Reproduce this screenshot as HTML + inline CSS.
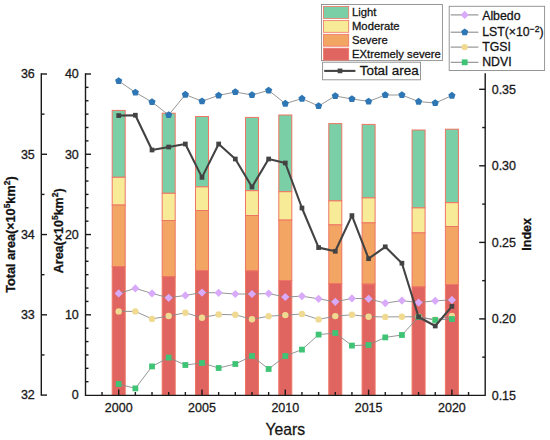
<!DOCTYPE html>
<html><head><meta charset="utf-8"><style>
html,body{margin:0;padding:0;background:#fff;}
svg{display:block;}
text{font-family:"Liberation Sans", sans-serif;stroke:#1a1a1a;stroke-width:0.3px;}
</style></head><body>
<svg width="550" height="440" viewBox="0 0 550 440">
<rect width="550" height="440" fill="#fff"/>
<rect x="112.2" y="110.4" width="13" height="66.9" fill="#7acfa6" stroke="#ee7664" stroke-width="1"/>
<rect x="112.2" y="177.3" width="13" height="27.8" fill="#f7eb98" stroke="#ee7664" stroke-width="1"/>
<rect x="112.2" y="205.1" width="13" height="61.4" fill="#f3a664" stroke="#ee7664" stroke-width="1"/>
<rect x="112.2" y="266.5" width="13" height="128.5" fill="#e06460" stroke="#ee7664" stroke-width="1"/>
<rect x="162.18" y="113.2" width="13" height="80.1" fill="#7acfa6" stroke="#ee7664" stroke-width="1"/>
<rect x="162.18" y="193.3" width="13" height="27.2" fill="#f7eb98" stroke="#ee7664" stroke-width="1"/>
<rect x="162.18" y="220.5" width="13" height="56" fill="#f3a664" stroke="#ee7664" stroke-width="1"/>
<rect x="162.18" y="276.5" width="13" height="118.5" fill="#e06460" stroke="#ee7664" stroke-width="1"/>
<rect x="195.5" y="116.5" width="13" height="70.4" fill="#7acfa6" stroke="#ee7664" stroke-width="1"/>
<rect x="195.5" y="186.9" width="13" height="23.6" fill="#f7eb98" stroke="#ee7664" stroke-width="1"/>
<rect x="195.5" y="210.5" width="13" height="60" fill="#f3a664" stroke="#ee7664" stroke-width="1"/>
<rect x="195.5" y="270.5" width="13" height="124.5" fill="#e06460" stroke="#ee7664" stroke-width="1"/>
<rect x="245.48" y="117.4" width="13" height="73.3" fill="#7acfa6" stroke="#ee7664" stroke-width="1"/>
<rect x="245.48" y="190.7" width="13" height="24.8" fill="#f7eb98" stroke="#ee7664" stroke-width="1"/>
<rect x="245.48" y="215.5" width="13" height="55.4" fill="#f3a664" stroke="#ee7664" stroke-width="1"/>
<rect x="245.48" y="270.9" width="13" height="124.1" fill="#e06460" stroke="#ee7664" stroke-width="1"/>
<rect x="278.8" y="115" width="13" height="76.7" fill="#7acfa6" stroke="#ee7664" stroke-width="1"/>
<rect x="278.8" y="191.7" width="13" height="28.4" fill="#f7eb98" stroke="#ee7664" stroke-width="1"/>
<rect x="278.8" y="220.1" width="13" height="60.4" fill="#f3a664" stroke="#ee7664" stroke-width="1"/>
<rect x="278.8" y="280.5" width="13" height="114.5" fill="#e06460" stroke="#ee7664" stroke-width="1"/>
<rect x="328.78" y="123.6" width="13" height="77.3" fill="#7acfa6" stroke="#ee7664" stroke-width="1"/>
<rect x="328.78" y="200.9" width="13" height="24" fill="#f7eb98" stroke="#ee7664" stroke-width="1"/>
<rect x="328.78" y="224.9" width="13" height="58.6" fill="#f3a664" stroke="#ee7664" stroke-width="1"/>
<rect x="328.78" y="283.5" width="13" height="111.5" fill="#e06460" stroke="#ee7664" stroke-width="1"/>
<rect x="362.1" y="124.4" width="13" height="73.5" fill="#7acfa6" stroke="#ee7664" stroke-width="1"/>
<rect x="362.1" y="197.9" width="13" height="25" fill="#f7eb98" stroke="#ee7664" stroke-width="1"/>
<rect x="362.1" y="222.9" width="13" height="61.2" fill="#f3a664" stroke="#ee7664" stroke-width="1"/>
<rect x="362.1" y="284.1" width="13" height="110.9" fill="#e06460" stroke="#ee7664" stroke-width="1"/>
<rect x="412.08" y="130" width="13" height="77.9" fill="#7acfa6" stroke="#ee7664" stroke-width="1"/>
<rect x="412.08" y="207.9" width="13" height="25" fill="#f7eb98" stroke="#ee7664" stroke-width="1"/>
<rect x="412.08" y="232.9" width="13" height="54" fill="#f3a664" stroke="#ee7664" stroke-width="1"/>
<rect x="412.08" y="286.9" width="13" height="108.1" fill="#e06460" stroke="#ee7664" stroke-width="1"/>
<rect x="445.4" y="129.2" width="13" height="73.5" fill="#7acfa6" stroke="#ee7664" stroke-width="1"/>
<rect x="445.4" y="202.7" width="13" height="23.8" fill="#f7eb98" stroke="#ee7664" stroke-width="1"/>
<rect x="445.4" y="226.5" width="13" height="58" fill="#f3a664" stroke="#ee7664" stroke-width="1"/>
<rect x="445.4" y="284.5" width="13" height="110.5" fill="#e06460" stroke="#ee7664" stroke-width="1"/>
<polyline points="118.7,293.4 135.36,288.4 152.02,293.4 168.68,297.8 185.34,295.4 202,292.6 218.66,292.8 235.32,294 251.98,294 268.64,293.6 285.3,297 301.96,296.2 318.62,298.8 335.28,301.8 351.94,298.4 368.6,298.8 385.26,303.1 401.92,300.6 418.58,302.6 435.24,300.8 451.9,299.9" fill="none" stroke="#8a8a8a" stroke-width="0.9" stroke-linejoin="round"/>
<polyline points="118.7,311.4 135.36,311.4 152.02,318.9 168.68,316 185.34,312.8 202,317.7 218.66,314.4 235.32,314.8 251.98,319.3 268.64,316.2 285.3,315.1 301.96,314 318.62,319.4 335.28,316.1 351.94,314.8 368.6,316.7 385.26,316.9 401.92,316.8 418.58,316.8 435.24,319.8 451.9,316" fill="none" stroke="#8a8a8a" stroke-width="0.9" stroke-linejoin="round"/>
<polyline points="118.7,384 135.36,388.4 152.02,366.4 168.68,357.6 185.34,365 202,363 218.66,368 235.32,364 251.98,356 268.64,369 285.3,356 301.96,349.6 318.62,334.6 335.28,333 351.94,345.6 368.6,345 385.26,337.4 401.92,335 418.58,317 435.24,320 451.9,319" fill="none" stroke="#8a8a8a" stroke-width="0.9" stroke-linejoin="round"/>
<polyline points="118.7,81 135.36,92.4 152.02,102 168.68,115 185.34,94.6 202,101.2 218.66,95.4 235.32,92 251.98,95 268.64,90.4 285.3,103.6 301.96,98.6 318.62,106 335.28,96 351.94,99 368.6,101.4 385.26,95 401.92,95 418.58,101.6 435.24,103 451.9,95.6" fill="none" stroke="#8a8a8a" stroke-width="0.9" stroke-linejoin="round"/>
<polygon points="118.7,289.3 122.8,293.4 118.7,297.5 114.6,293.4" fill="#d9aaf9"/>
<polygon points="135.36,284.3 139.46,288.4 135.36,292.5 131.26,288.4" fill="#d9aaf9"/>
<polygon points="152.02,289.3 156.12,293.4 152.02,297.5 147.92,293.4" fill="#d9aaf9"/>
<polygon points="168.68,293.7 172.78,297.8 168.68,301.9 164.58,297.8" fill="#d9aaf9"/>
<polygon points="185.34,291.3 189.44,295.4 185.34,299.5 181.24,295.4" fill="#d9aaf9"/>
<polygon points="202,288.5 206.1,292.6 202,296.7 197.9,292.6" fill="#d9aaf9"/>
<polygon points="218.66,288.7 222.76,292.8 218.66,296.9 214.56,292.8" fill="#d9aaf9"/>
<polygon points="235.32,289.9 239.42,294 235.32,298.1 231.22,294" fill="#d9aaf9"/>
<polygon points="251.98,289.9 256.08,294 251.98,298.1 247.88,294" fill="#d9aaf9"/>
<polygon points="268.64,289.5 272.74,293.6 268.64,297.7 264.54,293.6" fill="#d9aaf9"/>
<polygon points="285.3,292.9 289.4,297 285.3,301.1 281.2,297" fill="#d9aaf9"/>
<polygon points="301.96,292.1 306.06,296.2 301.96,300.3 297.86,296.2" fill="#d9aaf9"/>
<polygon points="318.62,294.7 322.72,298.8 318.62,302.9 314.52,298.8" fill="#d9aaf9"/>
<polygon points="335.28,297.7 339.38,301.8 335.28,305.9 331.18,301.8" fill="#d9aaf9"/>
<polygon points="351.94,294.3 356.04,298.4 351.94,302.5 347.84,298.4" fill="#d9aaf9"/>
<polygon points="368.6,294.7 372.7,298.8 368.6,302.9 364.5,298.8" fill="#d9aaf9"/>
<polygon points="385.26,299 389.36,303.1 385.26,307.2 381.16,303.1" fill="#d9aaf9"/>
<polygon points="401.92,296.5 406.02,300.6 401.92,304.7 397.82,300.6" fill="#d9aaf9"/>
<polygon points="418.58,298.5 422.68,302.6 418.58,306.7 414.48,302.6" fill="#d9aaf9"/>
<polygon points="435.24,296.7 439.34,300.8 435.24,304.9 431.14,300.8" fill="#d9aaf9"/>
<polygon points="451.9,295.8 456,299.9 451.9,304 447.8,299.9" fill="#d9aaf9"/>
<circle cx="118.7" cy="311.4" r="3.2" fill="#f0da92"/>
<circle cx="135.36" cy="311.4" r="3.2" fill="#f0da92"/>
<circle cx="152.02" cy="318.9" r="3.2" fill="#f0da92"/>
<circle cx="168.68" cy="316" r="3.2" fill="#f0da92"/>
<circle cx="185.34" cy="312.8" r="3.2" fill="#f0da92"/>
<circle cx="202" cy="317.7" r="3.2" fill="#f0da92"/>
<circle cx="218.66" cy="314.4" r="3.2" fill="#f0da92"/>
<circle cx="235.32" cy="314.8" r="3.2" fill="#f0da92"/>
<circle cx="251.98" cy="319.3" r="3.2" fill="#f0da92"/>
<circle cx="268.64" cy="316.2" r="3.2" fill="#f0da92"/>
<circle cx="285.3" cy="315.1" r="3.2" fill="#f0da92"/>
<circle cx="301.96" cy="314" r="3.2" fill="#f0da92"/>
<circle cx="318.62" cy="319.4" r="3.2" fill="#f0da92"/>
<circle cx="335.28" cy="316.1" r="3.2" fill="#f0da92"/>
<circle cx="351.94" cy="314.8" r="3.2" fill="#f0da92"/>
<circle cx="368.6" cy="316.7" r="3.2" fill="#f0da92"/>
<circle cx="385.26" cy="316.9" r="3.2" fill="#f0da92"/>
<circle cx="401.92" cy="316.8" r="3.2" fill="#f0da92"/>
<circle cx="418.58" cy="316.8" r="3.2" fill="#f0da92"/>
<circle cx="435.24" cy="319.8" r="3.2" fill="#f0da92"/>
<circle cx="451.9" cy="316" r="3.2" fill="#f0da92"/>
<polygon points="118.7,77.24 122.28,79.84 120.91,84.04 116.49,84.04 115.12,79.84" fill="#2f77b4"/>
<polygon points="135.36,88.64 138.94,91.24 137.57,95.44 133.15,95.44 131.78,91.24" fill="#2f77b4"/>
<polygon points="152.02,98.24 155.6,100.84 154.23,105.04 149.81,105.04 148.44,100.84" fill="#2f77b4"/>
<polygon points="168.68,111.24 172.26,113.84 170.89,118.04 166.47,118.04 165.1,113.84" fill="#2f77b4"/>
<polygon points="185.34,90.84 188.92,93.44 187.55,97.64 183.13,97.64 181.76,93.44" fill="#2f77b4"/>
<polygon points="202,97.44 205.58,100.04 204.21,104.24 199.79,104.24 198.42,100.04" fill="#2f77b4"/>
<polygon points="218.66,91.64 222.24,94.24 220.87,98.44 216.45,98.44 215.08,94.24" fill="#2f77b4"/>
<polygon points="235.32,88.24 238.9,90.84 237.53,95.04 233.11,95.04 231.74,90.84" fill="#2f77b4"/>
<polygon points="251.98,91.24 255.56,93.84 254.19,98.04 249.77,98.04 248.4,93.84" fill="#2f77b4"/>
<polygon points="268.64,86.64 272.22,89.24 270.85,93.44 266.43,93.44 265.06,89.24" fill="#2f77b4"/>
<polygon points="285.3,99.84 288.88,102.44 287.51,106.64 283.09,106.64 281.72,102.44" fill="#2f77b4"/>
<polygon points="301.96,94.84 305.54,97.44 304.17,101.64 299.75,101.64 298.38,97.44" fill="#2f77b4"/>
<polygon points="318.62,102.24 322.2,104.84 320.83,109.04 316.41,109.04 315.04,104.84" fill="#2f77b4"/>
<polygon points="335.28,92.24 338.86,94.84 337.49,99.04 333.07,99.04 331.7,94.84" fill="#2f77b4"/>
<polygon points="351.94,95.24 355.52,97.84 354.15,102.04 349.73,102.04 348.36,97.84" fill="#2f77b4"/>
<polygon points="368.6,97.64 372.18,100.24 370.81,104.44 366.39,104.44 365.02,100.24" fill="#2f77b4"/>
<polygon points="385.26,91.24 388.84,93.84 387.47,98.04 383.05,98.04 381.68,93.84" fill="#2f77b4"/>
<polygon points="401.92,91.24 405.5,93.84 404.13,98.04 399.71,98.04 398.34,93.84" fill="#2f77b4"/>
<polygon points="418.58,97.84 422.16,100.44 420.79,104.64 416.37,104.64 415,100.44" fill="#2f77b4"/>
<polygon points="435.24,99.24 438.82,101.84 437.45,106.04 433.03,106.04 431.66,101.84" fill="#2f77b4"/>
<polygon points="451.9,91.84 455.48,94.44 454.11,98.64 449.69,98.64 448.32,94.44" fill="#2f77b4"/>
<rect x="115.8" y="381.1" width="5.8" height="5.8" fill="#3fc476"/>
<rect x="132.46" y="385.5" width="5.8" height="5.8" fill="#3fc476"/>
<rect x="149.12" y="363.5" width="5.8" height="5.8" fill="#3fc476"/>
<rect x="165.78" y="354.7" width="5.8" height="5.8" fill="#3fc476"/>
<rect x="182.44" y="362.1" width="5.8" height="5.8" fill="#3fc476"/>
<rect x="199.1" y="360.1" width="5.8" height="5.8" fill="#3fc476"/>
<rect x="215.76" y="365.1" width="5.8" height="5.8" fill="#3fc476"/>
<rect x="232.42" y="361.1" width="5.8" height="5.8" fill="#3fc476"/>
<rect x="249.08" y="353.1" width="5.8" height="5.8" fill="#3fc476"/>
<rect x="265.74" y="366.1" width="5.8" height="5.8" fill="#3fc476"/>
<rect x="282.4" y="353.1" width="5.8" height="5.8" fill="#3fc476"/>
<rect x="299.06" y="346.7" width="5.8" height="5.8" fill="#3fc476"/>
<rect x="315.72" y="331.7" width="5.8" height="5.8" fill="#3fc476"/>
<rect x="332.38" y="330.1" width="5.8" height="5.8" fill="#3fc476"/>
<rect x="349.04" y="342.7" width="5.8" height="5.8" fill="#3fc476"/>
<rect x="365.7" y="342.1" width="5.8" height="5.8" fill="#3fc476"/>
<rect x="382.36" y="334.5" width="5.8" height="5.8" fill="#3fc476"/>
<rect x="399.02" y="332.1" width="5.8" height="5.8" fill="#3fc476"/>
<rect x="415.68" y="314.1" width="5.8" height="5.8" fill="#3fc476"/>
<rect x="432.34" y="317.1" width="5.8" height="5.8" fill="#3fc476"/>
<rect x="449" y="316.1" width="5.8" height="5.8" fill="#3fc476"/>
<polyline points="118.7,115.6 135.36,115.2 152.02,150 168.68,147 185.34,144 202,177.4 218.66,144 235.32,159 251.98,187 268.64,159 285.3,163 301.96,208 318.62,247.6 335.28,251.3 351.94,215.6 368.6,258.7 385.26,246.8 401.92,263.2 418.58,317 435.24,326 451.9,306.4" fill="none" stroke="#434343" stroke-width="2.1" stroke-linejoin="round"/>
<rect x="116.35" y="113.25" width="4.7" height="4.7" fill="#434343"/>
<rect x="133.01" y="112.85" width="4.7" height="4.7" fill="#434343"/>
<rect x="149.67" y="147.65" width="4.7" height="4.7" fill="#434343"/>
<rect x="166.33" y="144.65" width="4.7" height="4.7" fill="#434343"/>
<rect x="182.99" y="141.65" width="4.7" height="4.7" fill="#434343"/>
<rect x="199.65" y="175.05" width="4.7" height="4.7" fill="#434343"/>
<rect x="216.31" y="141.65" width="4.7" height="4.7" fill="#434343"/>
<rect x="232.97" y="156.65" width="4.7" height="4.7" fill="#434343"/>
<rect x="249.63" y="184.65" width="4.7" height="4.7" fill="#434343"/>
<rect x="266.29" y="156.65" width="4.7" height="4.7" fill="#434343"/>
<rect x="282.95" y="160.65" width="4.7" height="4.7" fill="#434343"/>
<rect x="299.61" y="205.65" width="4.7" height="4.7" fill="#434343"/>
<rect x="316.27" y="245.25" width="4.7" height="4.7" fill="#434343"/>
<rect x="332.93" y="248.95" width="4.7" height="4.7" fill="#434343"/>
<rect x="349.59" y="213.25" width="4.7" height="4.7" fill="#434343"/>
<rect x="366.25" y="256.35" width="4.7" height="4.7" fill="#434343"/>
<rect x="382.91" y="244.45" width="4.7" height="4.7" fill="#434343"/>
<rect x="399.57" y="260.85" width="4.7" height="4.7" fill="#434343"/>
<rect x="416.23" y="314.65" width="4.7" height="4.7" fill="#434343"/>
<rect x="432.89" y="323.65" width="4.7" height="4.7" fill="#434343"/>
<rect x="449.55" y="304.05" width="4.7" height="4.7" fill="#434343"/>
<g stroke="#1a1a1a" stroke-width="1.4" fill="none">
<path d="M41.3,73.3 V395.8 M85.5,73.3 V395.35 H485.2 V73.3"/>
<path d="M41.3,74 H47"/>
<path d="M41.3,154.27 H47"/>
<path d="M41.3,234.54 H47"/>
<path d="M41.3,314.81 H47"/>
<path d="M41.3,395.08 H47"/>
<path d="M41.3,114.13 H44.5"/>
<path d="M41.3,194.4 H44.5"/>
<path d="M41.3,274.68 H44.5"/>
<path d="M41.3,354.94 H44.5"/>
<path d="M85.5,74 H91"/>
<path d="M85.5,154.27 H91"/>
<path d="M85.5,234.54 H91"/>
<path d="M85.5,314.81 H91"/>
<path d="M85.5,87.38 H88.5"/>
<path d="M85.5,100.76 H88.5"/>
<path d="M85.5,114.13 H88.5"/>
<path d="M85.5,127.51 H88.5"/>
<path d="M85.5,140.89 H88.5"/>
<path d="M85.5,167.65 H88.5"/>
<path d="M85.5,181.03 H88.5"/>
<path d="M85.5,194.4 H88.5"/>
<path d="M85.5,207.78 H88.5"/>
<path d="M85.5,221.16 H88.5"/>
<path d="M85.5,247.92 H88.5"/>
<path d="M85.5,261.3 H88.5"/>
<path d="M85.5,274.67 H88.5"/>
<path d="M85.5,288.05 H88.5"/>
<path d="M85.5,301.43 H88.5"/>
<path d="M85.5,328.19 H88.5"/>
<path d="M85.5,341.57 H88.5"/>
<path d="M85.5,354.94 H88.5"/>
<path d="M85.5,368.32 H88.5"/>
<path d="M85.5,381.7 H88.5"/>
<path d="M485.2,89.3 H479.2"/>
<path d="M485.2,165.8 H479.2"/>
<path d="M485.2,242.4 H479.2"/>
<path d="M485.2,318.9 H479.2"/>
<path d="M485.2,127.55 H482.2"/>
<path d="M485.2,204.1 H482.2"/>
<path d="M485.2,280.65 H482.2"/>
<path d="M485.2,357.15 H482.2"/>
<path d="M102.04,395 V392"/>
<path d="M118.7,395 V389.6"/>
<path d="M135.36,395 V392"/>
<path d="M152.02,395 V392"/>
<path d="M168.68,395 V392"/>
<path d="M185.34,395 V392"/>
<path d="M202,395 V389.6"/>
<path d="M218.66,395 V392"/>
<path d="M235.32,395 V392"/>
<path d="M251.98,395 V392"/>
<path d="M268.64,395 V392"/>
<path d="M285.3,395 V389.6"/>
<path d="M301.96,395 V392"/>
<path d="M318.62,395 V392"/>
<path d="M335.28,395 V392"/>
<path d="M351.94,395 V392"/>
<path d="M368.6,395 V389.6"/>
<path d="M385.26,395 V392"/>
<path d="M401.92,395 V392"/>
<path d="M418.58,395 V392"/>
<path d="M435.24,395 V392"/>
<path d="M451.9,395 V389.6"/>
<path d="M468.56,395 V392"/>
</g>
<g font-family="Liberation Sans" font-size="12.5" fill="#1a1a1a">
<text x="34.8" y="78.4" text-anchor="end">36</text>
<text x="34.8" y="158.67" text-anchor="end">35</text>
<text x="34.8" y="238.94" text-anchor="end">34</text>
<text x="34.8" y="319.21" text-anchor="end">33</text>
<text x="34.8" y="399.48" text-anchor="end">32</text>
<text x="78.8" y="78.4" text-anchor="end">40</text>
<text x="78.8" y="158.67" text-anchor="end">30</text>
<text x="78.8" y="238.94" text-anchor="end">20</text>
<text x="78.8" y="319.21" text-anchor="end">10</text>
<text x="78.8" y="399.48" text-anchor="end">0</text>
<text x="491.7" y="93.7">0.35</text>
<text x="491.7" y="170.2">0.30</text>
<text x="491.7" y="246.8">0.25</text>
<text x="491.7" y="323.3">0.20</text>
<text x="491.7" y="399.8">0.15</text>
<text x="118.7" y="411.8" text-anchor="middle">2000</text>
<text x="202" y="411.8" text-anchor="middle">2005</text>
<text x="285.3" y="411.8" text-anchor="middle">2010</text>
<text x="368.6" y="411.8" text-anchor="middle">2015</text>
<text x="451.9" y="411.8" text-anchor="middle">2020</text>
</g>
<g font-family="Liberation Sans" font-weight="bold" font-size="12.5" fill="#111">
<text transform="translate(15,234.6) rotate(-90)" text-anchor="middle" font-size="12.65">Total area(×10<tspan font-size="8.5" dy="-5.0">5</tspan><tspan dy="5.0">km</tspan><tspan font-size="8.5" dy="-5.0">2</tspan><tspan dy="5.0">)</tspan></text>
<text transform="translate(63.3,230.8) rotate(-90)" text-anchor="middle">Area(×10<tspan font-size="8.5" dy="-5.0">5</tspan><tspan dy="5.0">km</tspan><tspan font-size="8.5" dy="-5.0">2</tspan><tspan dy="5.0">)</tspan></text>
<text transform="translate(530.6,234.3) rotate(-90)" text-anchor="middle">Index</text>
</g>
<text x="285.3" y="435.3" text-anchor="middle" font-family="Liberation Sans" font-size="15.7" fill="#111">Years</text>
<rect x="321.5" y="4.5" width="120.9" height="56.1" fill="#fff" stroke="#8c8c8c" stroke-width="0.9"/>
<rect x="323.5" y="6.5" width="25.2" height="11.9" fill="#7acfa6" stroke="#ee7664" stroke-width="0.8"/>
<text x="352" y="16.4" font-family="Liberation Sans" font-size="11.25" fill="#111">Light</text>
<rect x="323.5" y="20.4" width="25.2" height="11.9" fill="#f7eb98" stroke="#ee7664" stroke-width="0.8"/>
<text x="352" y="30.3" font-family="Liberation Sans" font-size="11.25" fill="#111">Moderate</text>
<rect x="323.5" y="34.3" width="25.2" height="11.9" fill="#f3a664" stroke="#ee7664" stroke-width="0.8"/>
<text x="352" y="44.2" font-family="Liberation Sans" font-size="11.25" fill="#111">Severe</text>
<rect x="323.5" y="48.2" width="25.2" height="11.9" fill="#e06460" stroke="#ee7664" stroke-width="0.8"/>
<text x="352" y="58.1" font-family="Liberation Sans" font-size="11.25" fill="#111">EXtremely severe</text>
<rect x="322.6" y="62.2" width="97.9" height="17.6" fill="#fff" stroke="#8c8c8c" stroke-width="0.9"/>
<path d="M324.2,70.9 H355.4" stroke="#434343" stroke-width="2.1"/>
<rect x="337.65" y="68.55" width="4.7" height="4.7" fill="#434343"/>
<text x="359.7" y="75.4" font-family="Liberation Sans" font-size="13.45" fill="#111">Total area</text>
<rect x="449.2" y="6.3" width="95.4" height="64.2" fill="#fff" stroke="#8c8c8c" stroke-width="0.9"/>
<path d="M450.7,14.9 H478.4" stroke="#8c8c8c" stroke-width="1.1"/>
<polygon points="464.7,10.8 468.8,14.9 464.7,19 460.6,14.9" fill="#d9aaf9"/>
<text x="482.2" y="19.5" font-family="Liberation Sans" font-size="12.3" fill="#111">Albedo</text>
<path d="M450.7,32.2 H478.4" stroke="#8c8c8c" stroke-width="1.1"/>
<polygon points="464.7,28.44 468.28,31.04 466.91,35.24 462.49,35.24 461.12,31.04" fill="#2f77b4"/>
<path d="M450.7,47.1 H478.4" stroke="#8c8c8c" stroke-width="1.1"/>
<circle cx="464.7" cy="47.1" r="3.2" fill="#f0da92"/>
<text x="482.2" y="51" font-family="Liberation Sans" font-size="12.3" fill="#111">TGSI</text>
<path d="M450.7,62.3 H478.4" stroke="#8c8c8c" stroke-width="1.1"/>
<rect x="461.8" y="59.4" width="5.8" height="5.8" fill="#3fc476"/>
<text x="482.2" y="66.1" font-family="Liberation Sans" font-size="12.3" fill="#111">NDVI</text>
<text x="482.2" y="36.0" font-family="Liberation Sans" font-size="12.3" fill="#111">LST(×10<tspan font-size="8.5" dy="-4.5">−2</tspan><tspan dy="4.5">)</tspan></text>
</svg>
</body></html>
